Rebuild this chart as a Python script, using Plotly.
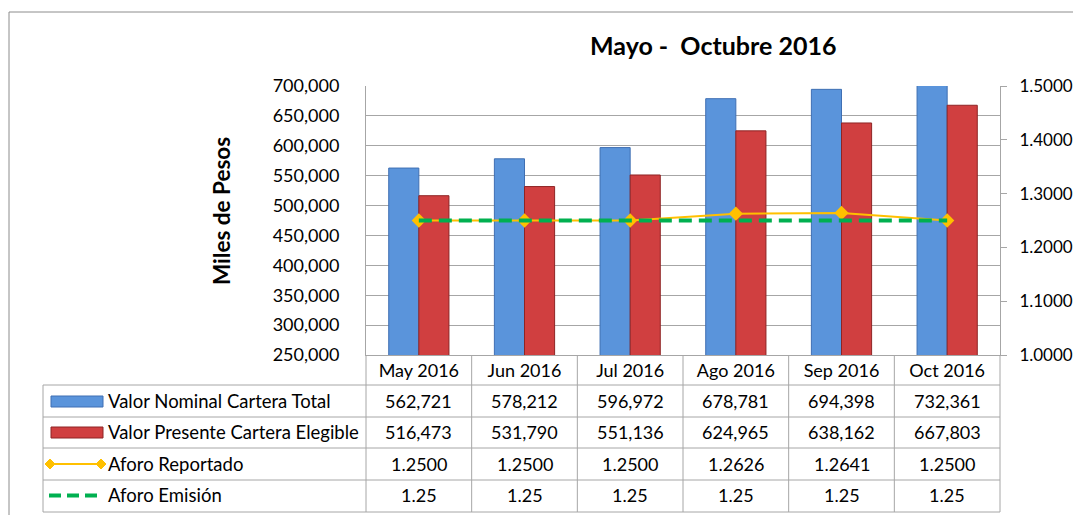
import plotly.graph_objects as go

categories = ["May 2016", "Jun 2016", "Jul 2016", "Ago 2016", "Sep 2016", "Oct 2016"]
valor_nominal = [562721, 578212, 596972, 678781, 694398, 732361]
valor_presente = [516473, 531790, 551136, 624965, 638162, 667803]
aforo_reportado = [1.2500, 1.2500, 1.2500, 1.2626, 1.2641, 1.2500]
aforo_emision = [1.25, 1.25, 1.25, 1.25, 1.25, 1.25]

series_names = ["Valor Nominal Cartera Total", "Valor Presente Cartera Elegible",
                "Aforo Reportado", "Aforo Emisión"]

W, H = 1073, 515
L, R, T, B = 366, 1000, 86, 355
FONT = "Lato"
FS = 18
GRID = "#A6A6A6"
BLUE = "#5A94DB"
BLUE_EDGE = "#3F6FB3"
RED = "#D03F40"
RED_EDGE = "#8E2424"
YELLOW = "#FFC000"
GREEN = "#00B050"


def px(x):
    return (x - L) / (R - L)


def py(y):
    return (B - y) / (B - T)


fig = go.Figure()
fig.add_trace(go.Bar(x=categories, y=valor_nominal, name=series_names[0],
                     marker=dict(color=BLUE, line=dict(color=BLUE_EDGE, width=1))))
fig.add_trace(go.Bar(x=categories, y=valor_presente, name=series_names[1],
                     marker=dict(color=RED, line=dict(color=RED_EDGE, width=1))))
fig.add_trace(go.Scatter(x=categories, y=aforo_reportado, name=series_names[2], yaxis="y2",
                         mode="lines+markers", line=dict(color=YELLOW, width=2),
                         marker=dict(symbol="diamond", size=11, color=YELLOW)))
fig.add_trace(go.Scatter(x=categories, y=aforo_emision, name=series_names[3], yaxis="y2",
                         mode="lines", line=dict(color=GREEN, width=4, dash="13px,7px")))

shapes = []
line_style = dict(color=GRID, width=1)
# outer chart border
shapes.append(dict(type="line", xref="paper", yref="paper", x0=px(9), x1=px(W + 5),
                   y0=py(12), y1=py(12), line=dict(color="#8C8C8C", width=1)))
shapes.append(dict(type="line", xref="paper", yref="paper", x0=px(9), x1=px(9),
                   y0=py(12), y1=py(H + 5), line=dict(color="#8C8C8C", width=1)))
# table horizontal lines
for yy in [385, 417, 448, 480, 512]:
    shapes.append(dict(type="line", xref="paper", yref="paper", x0=px(43), x1=1,
                       y0=py(yy), y1=py(yy), line=line_style))
shapes.append(dict(type="line", xref="paper", yref="paper", x0=px(43), x1=px(43),
                   y0=py(385), y1=py(512), line=line_style))
for k in range(len(categories) + 1):
    xx = k / len(categories)
    shapes.append(dict(type="line", xref="paper", yref="paper", x0=xx, x1=xx,
                       y0=0, y1=py(512), line=line_style))

# legend keys inside the table
shapes.append(dict(type="rect", xref="paper", yref="paper", x0=px(51), x1=px(103),
                   y0=py(396), y1=py(407), fillcolor=BLUE, line=dict(color=BLUE_EDGE, width=1)))
shapes.append(dict(type="rect", xref="paper", yref="paper", x0=px(51), x1=px(103),
                   y0=py(427), y1=py(438), fillcolor=RED, line=dict(color=RED_EDGE, width=1)))
shapes.append(dict(type="line", xref="paper", yref="paper", x0=px(50), x1=px(101),
                   y0=py(464), y1=py(464), line=dict(color=YELLOW, width=2)))
for cx in [50, 101]:
    d = 5
    path = "M {} {} L {} {} L {} {} L {} {} Z".format(
        px(cx - d), py(464), px(cx), py(464 - d), px(cx + d), py(464), px(cx), py(464 + d))
    shapes.append(dict(type="path", xref="paper", yref="paper", path=path,
                       fillcolor=YELLOW, line=dict(color=YELLOW, width=1)))
shapes.append(dict(type="line", xref="paper", yref="paper", x0=px(49), x1=px(97),
                   y0=py(495.5), y1=py(495.5), line=dict(color=GREEN, width=4, dash="12px,6px")))

annotations = []
# title
annotations.append(dict(text="<b>Mayo -  Octubre 2016</b>", xref="paper", yref="paper",
                        x=px(713), y=py(45), showarrow=False, xanchor="center", yanchor="middle",
                        font=dict(family=FONT, size=25, color="black")))
# y axis title
annotations.append(dict(text="<b>Miles de Pesos</b>", xref="paper", yref="paper",
                        x=px(221), y=py(211), showarrow=False, textangle=-90,
                        xanchor="center", yanchor="middle",
                        font=dict(family=FONT, size=22.5, color="black")))

row_centers = [401, 432.5, 464, 495.5]
row_values = [
    ["{:,}".format(v) for v in valor_nominal],
    ["{:,}".format(v) for v in valor_presente],
    ["{:.4f}".format(v) for v in aforo_reportado],
    ["{:.2f}".format(v) for v in aforo_emision],
]
for name, yc, vals in zip(series_names, row_centers, row_values):
    annotations.append(dict(text=name, xref="paper", yref="paper", x=px(106), y=py(yc),
                            showarrow=False, xanchor="left", yanchor="middle",
                            font=dict(family=FONT, size=FS + 0.5, color="black")))
    for c, v in zip(categories, vals):
        annotations.append(dict(text=v, xref="x", yref="paper", x=c, y=py(yc),
                                showarrow=False, xanchor="center", yanchor="middle",
                                font=dict(family=FONT, size=FS, color="black")))

fig.update_layout(
    width=W, height=H,
    margin=dict(l=L, r=W - R, t=T, b=H - B, pad=0, autoexpand=False),
    paper_bgcolor="white", plot_bgcolor="white",
    showlegend=False,
    barmode="group", bargap=0.43, bargroupgap=0,
    font=dict(family=FONT, size=FS, color="black"),
    xaxis=dict(showgrid=False, showline=True, linecolor=GRID, linewidth=1,
               ticks="", tickfont=dict(family=FONT, size=FS, color="black"),
               ticklabelstandoff=-1, automargin=False),
    yaxis=dict(range=[250000, 700000], dtick=50000, tickformat=",",
               showgrid=True, gridcolor=GRID, gridwidth=1,
               showline=True, linecolor=GRID, linewidth=1,
               ticks="", ticklabelstandoff=22, zeroline=False, automargin=False,
               tickfont=dict(family=FONT, size=FS, color="black")),
    yaxis2=dict(range=[1.0, 1.5], dtick=0.1, tickformat=".4f", overlaying="y", side="right",
                showgrid=False, showline=True, linecolor=GRID, linewidth=1,
                ticks="outside", ticklen=6, tickcolor=GRID, zeroline=False,
                ticklabelstandoff=9, automargin=False,
                tickfont=dict(family=FONT, size=17, color="black")),
    shapes=shapes,
    annotations=annotations,
)

fig.write_html("out.html", config={"displayModeBar": False},
               post_script="document.body.style.margin='0';document.body.style.overflow='hidden';")
